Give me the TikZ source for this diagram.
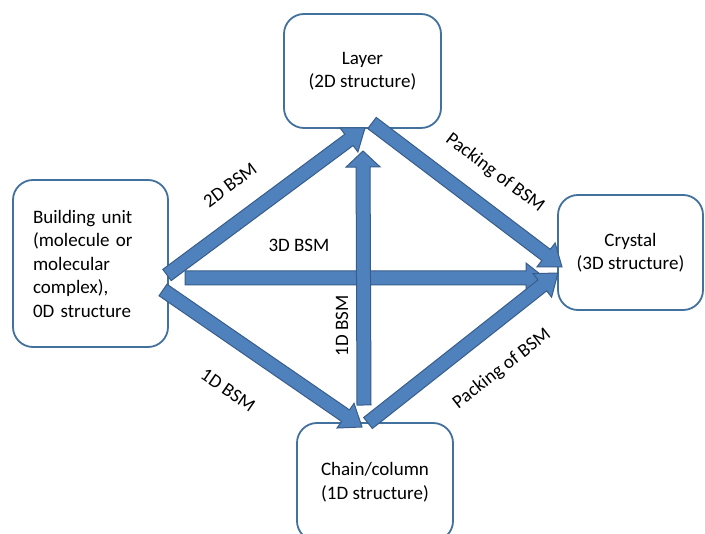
\documentclass[tikz,border=0pt]{standalone}
\usepackage{fontspec}
\setmainfont{Carlito}
\usetikzlibrary{calc}
\definecolor{bsmfill}{HTML}{4F81BD}
\definecolor{bsmline}{HTML}{385D8A}
\definecolor{boxline}{HTML}{41719C}
\newcommand{\bsmarrow}[4][20pt]{%
  \coordinate (hb) at ($(#3)!#1!(#2)$);
  \filldraw[bsm] ($(#2)!7pt!90:(#3)$) -- ($(hb)!7pt!90:(#3)$) -- ($(hb)!#4!90:(#3)$) -- (#3)
    -- ($(hb)!#4!-90:(#3)$) -- ($(hb)!7pt!-90:(#3)$) -- ($(#2)!7pt!-90:(#3)$) -- cycle;}

\begin{document}
\begin{tikzpicture}[x=1pt,y=-1pt,
  struct/.style={draw=boxline, line width=1.8pt, rounded corners=20pt, fill=white, align=center},
  bsm/.style={fill=bsmfill, draw=bsmline, line width=1pt, line join=miter},
  every node/.style={font=\fontsize{19}{23.5}\selectfont}]
\useasboundingbox[fill=white] (0,0) rectangle (705,534);
\node[struct, minimum width=157pt, minimum height=114pt] (layer) at (362.5,71) {Layer\\(2D structure)};
\node[struct, minimum width=155pt, minimum height=167pt, align=left, text width=115pt] (unit) at (90.5,263.5)
  {Building unit\\(molecule or\\molecular\\complex),\\0D structure};
\node[struct, minimum width=145pt, minimum height=115pt] (crystal) at (630.5,252.5) {Crystal\\(3D structure)};
\node[struct, minimum width=156pt, minimum height=118pt] (chain) at (375,482) {Chain/column\\(1D structure)};
\coordinate (unit2d) at (167,275);
\coordinate (unit3d) at (185,278);
\coordinate (unit1d) at (163,290);
\coordinate (layerin) at (365,128);
\coordinate (layerup) at (363,151);
\coordinate (layerout) at (372,123);
\coordinate (chainin) at (362,427);
\coordinate (chainup) at (364,405);
\coordinate (chainout) at (368,423);
\coordinate (crys3d) at (545,278);
\coordinate (crystop) at (562,267);
\coordinate (crysbot) at (558,273);
\bsmarrow[19pt]{unit3d}{crys3d}{15pt}
\bsmarrow{unit2d}{layerin}{15pt}
\bsmarrow{unit1d}{chainin}{15pt}
\bsmarrow[16pt]{chainup}{layerup}{17pt}
\bsmarrow{layerout}{crystop}{15pt}
\bsmarrow{chainout}{crysbot}{15pt}
\node[rotate=36.6] (lbl2d) at (230,185) {2D BSM};
\node (lbl3d) at (299,245) {3D BSM};
\node[rotate=-34.5] (lbl1d) at (228,390) {1D BSM};
\node[rotate=90] (lblup) at (342,326) {1D BSM};
\node[rotate=-37] (lblpacka) at (495,173) {Packing of BSM};
\node[rotate=38] (lblpackb) at (502,369) {Packing of BSM};
\end{tikzpicture}
\end{document}
